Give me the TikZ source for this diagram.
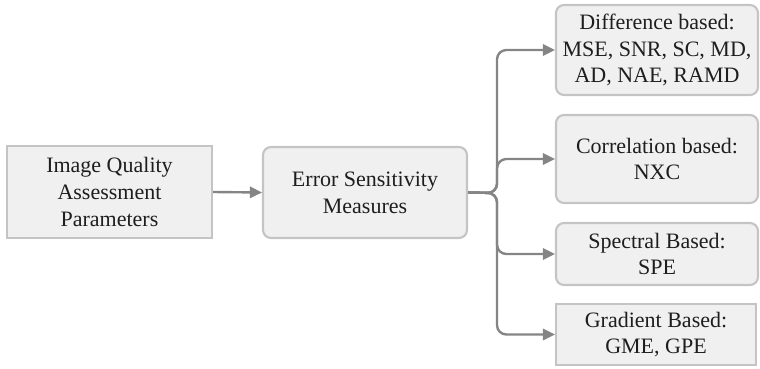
\documentclass[tikz,border=0pt]{standalone}
\usepackage{fontspec}
\setmainfont{Liberation Serif}
\usetikzlibrary{arrows.meta}
\definecolor{boxfill}{HTML}{F0F0F0}
\definecolor{boxline}{HTML}{C4C4C4}
\definecolor{linkcol}{HTML}{858585}
\definecolor{inkcol}{HTML}{1E1E1E}
\tikzset{
  box/.style={draw=boxline, fill=boxfill, line width=1.6pt, align=center,
    text=inkcol, inner sep=0pt,
    font=\fontsize{16.5}{20}\selectfont},
  rbox/.style={box, rounded corners=6pt},
  link/.style={draw=linkcol, line width=1.8pt, rounded corners=7pt,
    -{Triangle[length=9pt,width=8.5pt]}},
}
\begin{document}
\begin{tikzpicture}[x=0.75pt,y=-0.75pt]
\useasboundingbox (0,0) rectangle (760,368);

% left column
\node[box, minimum width=205*0.75pt, minimum height=92*0.75pt]
  (iqa) at (109.5,192) {Image Quality\\Assessment\\Parameters};
\node[rbox, minimum width=204*0.75pt, minimum height=91*0.75pt]
  (esm) at (365,192.5) {Error Sensitivity\\Measures};

% right column
\node[rbox, minimum width=202*0.75pt, minimum height=90*0.75pt]
  (diff) at (657,50) {Difference based:\\MSE, SNR, SC, MD,\\AD, NAE, RAMD};
\node[rbox, minimum width=202*0.75pt, minimum height=88*0.75pt]
  (corr) at (657,159) {Correlation based:\\NXC};
\node[rbox, minimum width=202*0.75pt, minimum height=62*0.75pt]
  (spec) at (657,254) {Spectral Based:\\SPE};
\node[box, minimum width=200*0.75pt, minimum height=61*0.75pt]
  (grad) at (656,334.5) {Gradient Based:\\GME, GPE};

% connectors
\draw[link] (iqa.east) -- (esm.west);
\coordinate (split) at (497,193);
\draw[link] (esm.east) -- (split) |- (diff.west);
\draw[link] (esm.east) -- (split) |- (corr.west);
\draw[link] (esm.east) -- (split) |- (spec.west);
\draw[link] (esm.east) -- (split) |- (grad.west);
\end{tikzpicture}
\end{document}
